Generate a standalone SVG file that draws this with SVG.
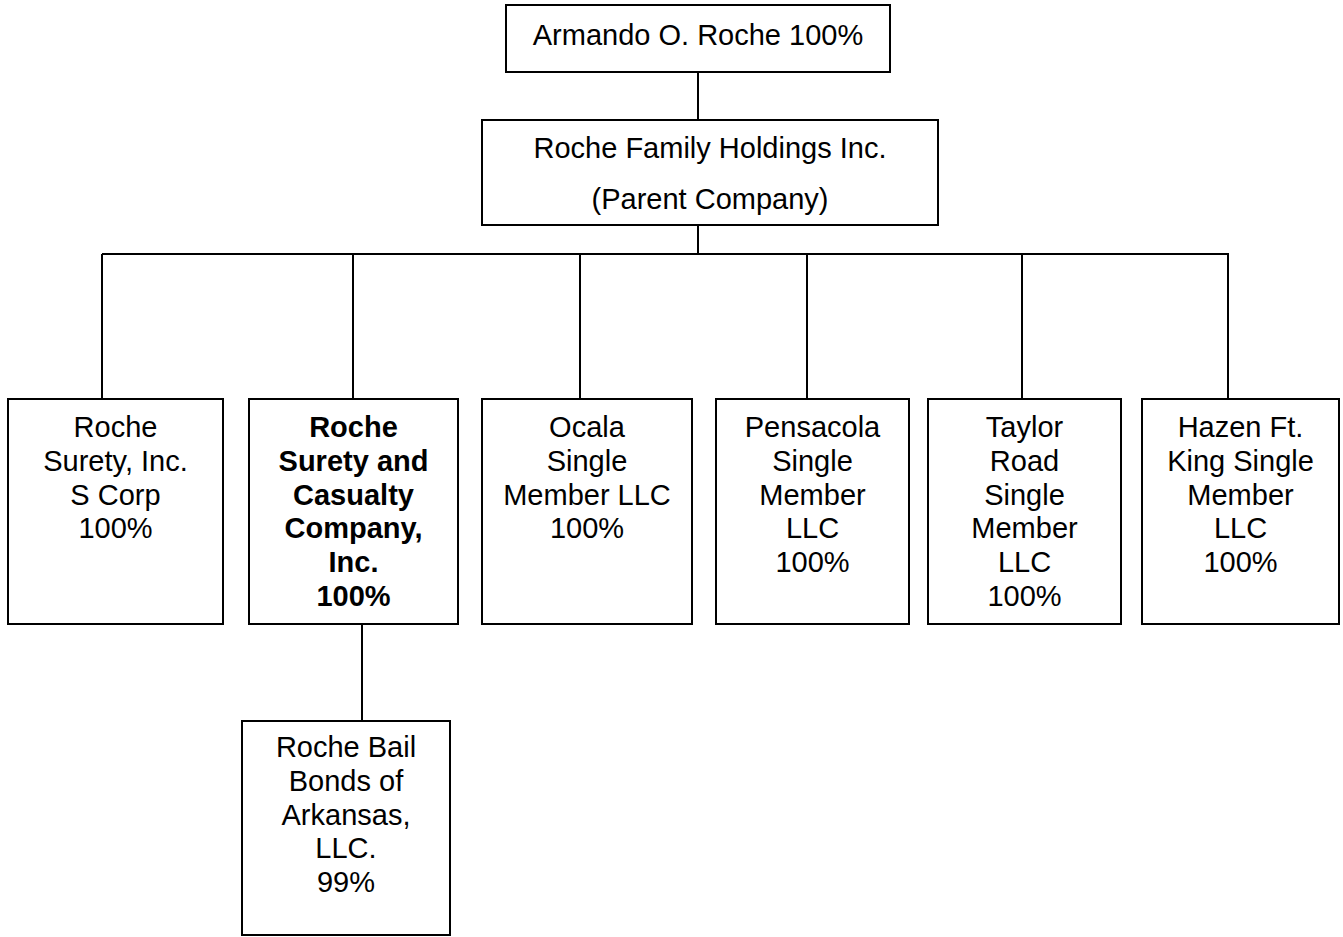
<svg xmlns="http://www.w3.org/2000/svg" width="1343" height="937" viewBox="0 0 1343 937">
<style>
rect { fill: #fff; stroke: #000; stroke-width: 2; }
.c line { stroke: #000; stroke-width: 2; }
text { font-family: "Liberation Sans", Arial, sans-serif; font-size: 29px; fill: #000; text-anchor: middle; }
.b { font-weight: bold; }
</style>
<rect x="0" y="0" width="1343" height="937" style="fill:#fff;stroke:none"/>
<g class="c" id="connectors">
<line x1="698" y1="72" x2="698" y2="120"/>
<line x1="698" y1="225" x2="698" y2="254"/>
<line x1="102" y1="254" x2="1229" y2="254"/>
<line x1="102" y1="254" x2="102" y2="399"/>
<line x1="353" y1="254" x2="353" y2="399"/>
<line x1="580" y1="254" x2="580" y2="399"/>
<line x1="807" y1="254" x2="807" y2="399"/>
<line x1="1022" y1="254" x2="1022" y2="399"/>
<line x1="1228" y1="254" x2="1228" y2="399"/>
<line x1="362" y1="624" x2="362" y2="721"/>
</g>
<g id="armando">
<rect x="506" y="5" width="384" height="67"/>
<text x="698" y="45">Armando O. Roche 100%</text>
</g>
<g id="holdings">
<rect x="482" y="120" width="456" height="105"/>
<text x="710" y="158">Roche Family Holdings Inc.</text>
<text x="710" y="209">(Parent Company)</text>
</g>
<g id="surety">
<rect x="8" y="399" width="215" height="225"/>
<text x="115.5" y="437">Roche</text>
<text x="115.5" y="471">Surety, Inc.</text>
<text x="115.5" y="504.5">S Corp</text>
<text x="115.5" y="538">100%</text>
</g>
<g id="casualty">
<rect x="249" y="399" width="209" height="225"/>
<text class="b" x="353.5" y="437">Roche</text>
<text class="b" x="353.5" y="471">Surety and</text>
<text class="b" x="353.5" y="504.5">Casualty</text>
<text class="b" x="353.5" y="538">Company,</text>
<text class="b" x="353.5" y="572">Inc.</text>
<text class="b" x="353.5" y="606">100%</text>
</g>
<g id="ocala">
<rect x="482" y="399" width="210" height="225"/>
<text x="587" y="437">Ocala</text>
<text x="587" y="471">Single</text>
<text x="587" y="504.5">Member LLC</text>
<text x="587" y="538">100%</text>
</g>
<g id="pensacola">
<rect x="716" y="399" width="193" height="225"/>
<text x="812.5" y="437">Pensacola</text>
<text x="812.5" y="471">Single</text>
<text x="812.5" y="504.5">Member</text>
<text x="812.5" y="538">LLC</text>
<text x="812.5" y="572">100%</text>
</g>
<g id="taylor">
<rect x="928" y="399" width="193" height="225"/>
<text x="1024.5" y="437">Taylor</text>
<text x="1024.5" y="471">Road</text>
<text x="1024.5" y="504.5">Single</text>
<text x="1024.5" y="538">Member</text>
<text x="1024.5" y="572">LLC</text>
<text x="1024.5" y="606">100%</text>
</g>
<g id="hazen">
<rect x="1142" y="399" width="197" height="225"/>
<text x="1240.5" y="437">Hazen Ft.</text>
<text x="1240.5" y="471">King Single</text>
<text x="1240.5" y="504.5">Member</text>
<text x="1240.5" y="538">LLC</text>
<text x="1240.5" y="572">100%</text>
</g>
<g id="bailbonds">
<rect x="242" y="721" width="208" height="214"/>
<text x="346" y="757">Roche Bail</text>
<text x="346" y="791">Bonds of</text>
<text x="346" y="824.5">Arkansas,</text>
<text x="346" y="858">LLC.</text>
<text x="346" y="892">99%</text>
</g>
</svg>
